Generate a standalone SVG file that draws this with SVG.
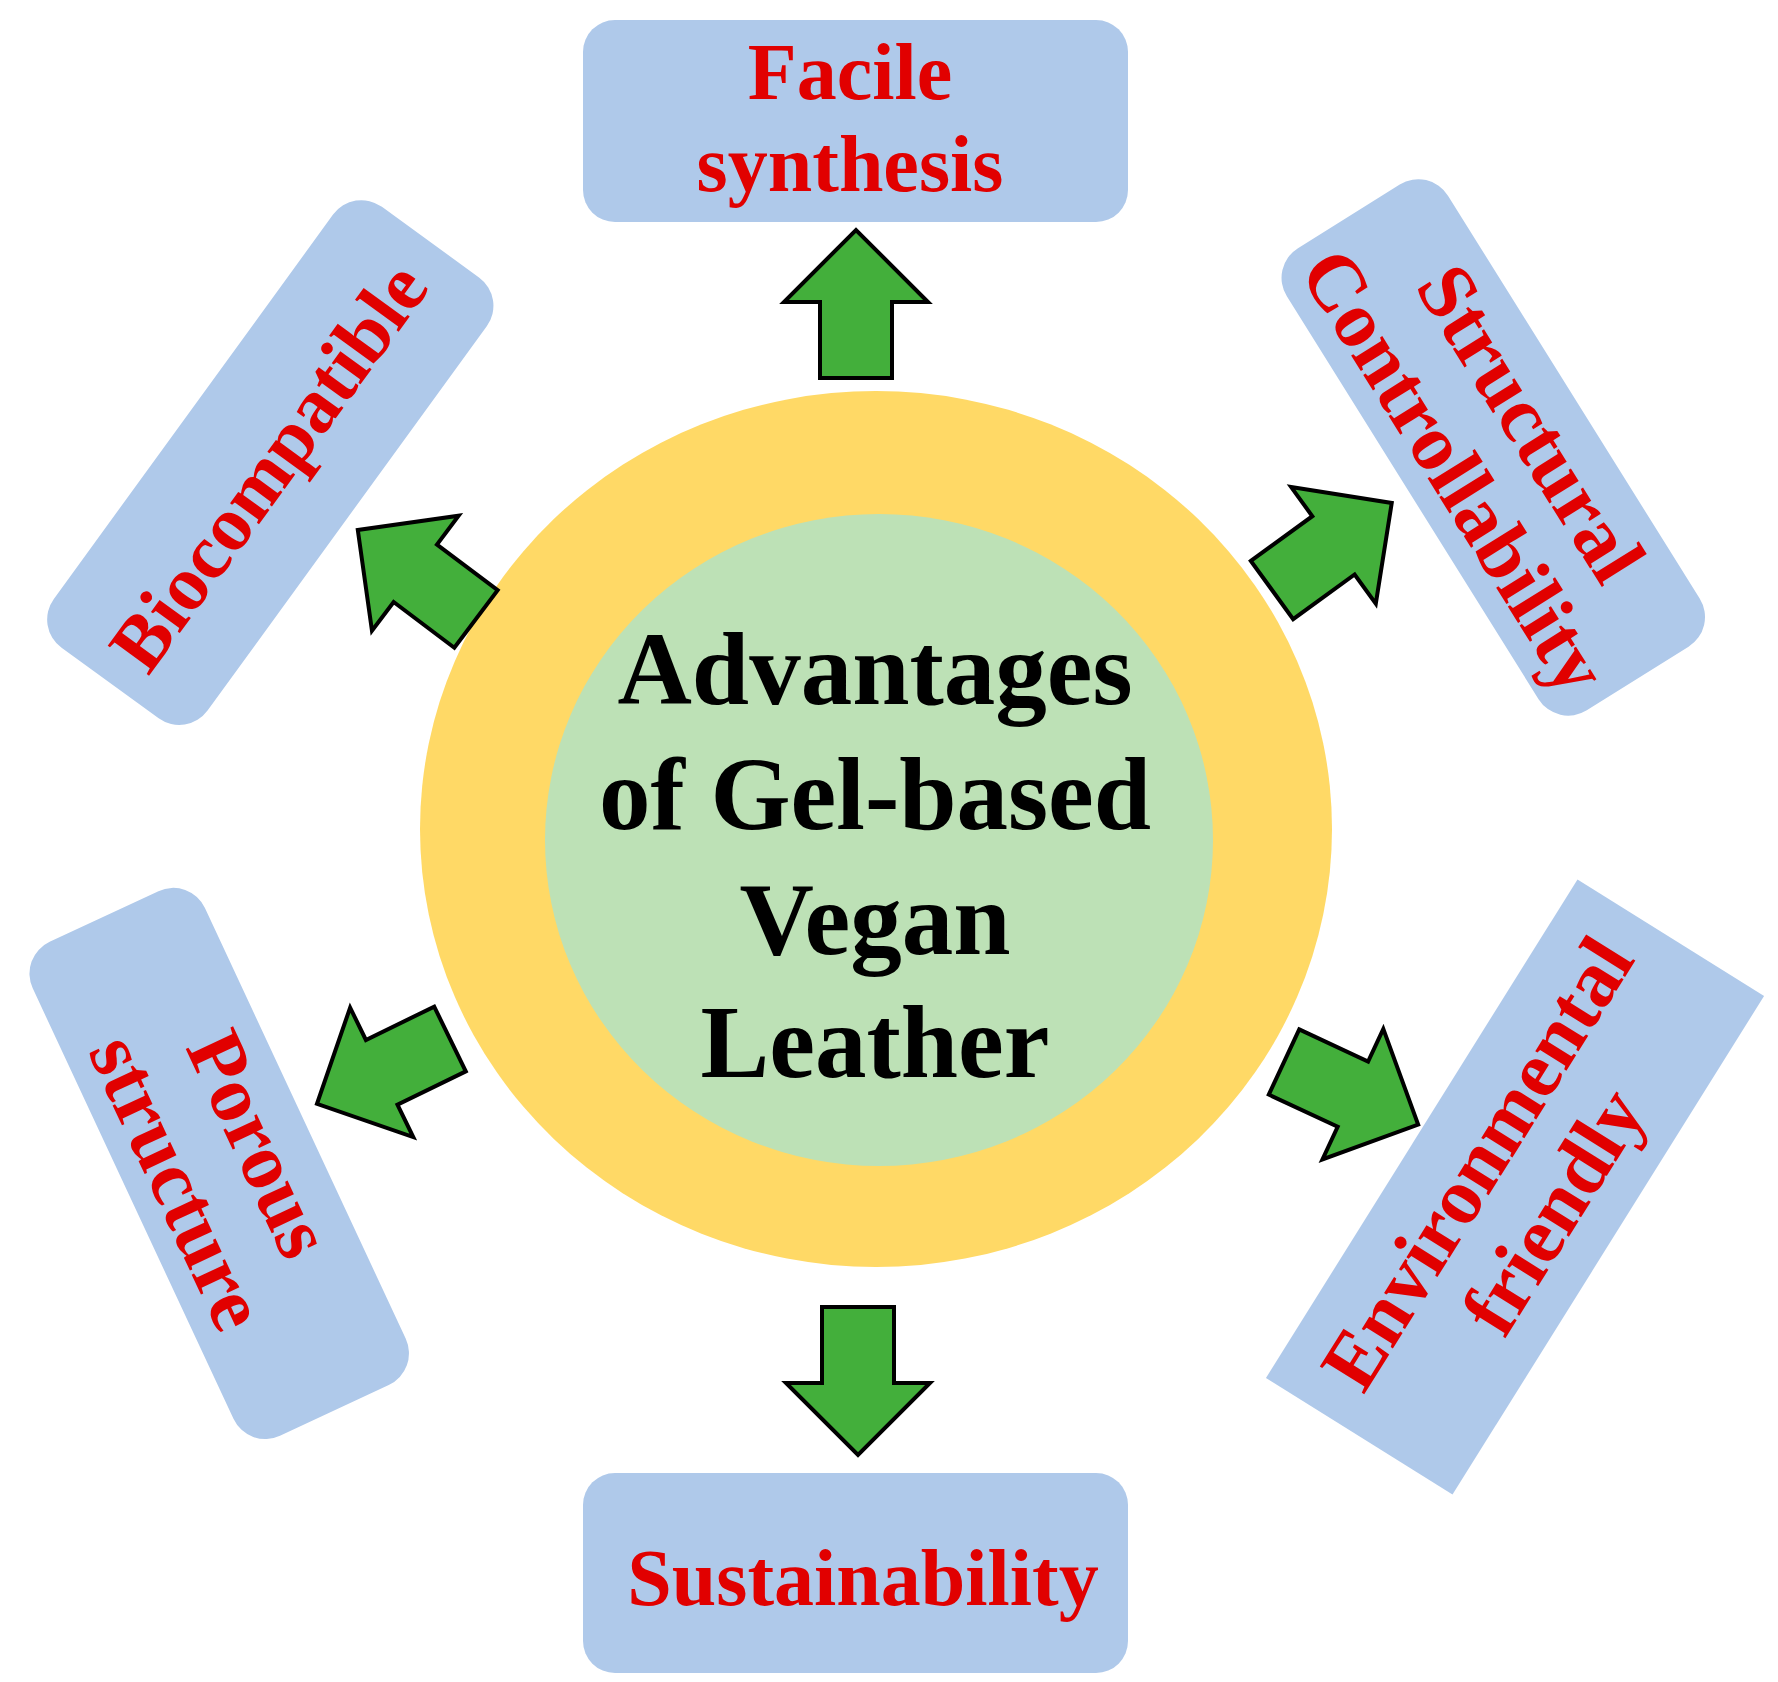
<svg xmlns="http://www.w3.org/2000/svg" width="1778" height="1682" viewBox="0 0 1778 1682">
  <style>
    .box { fill: #AFC9EA; }
    .lbl { font-family: "Liberation Serif", "Times New Roman", serif; font-weight: bold; font-size: 80px; fill: #E10000; text-anchor: middle; }
    .ctr { font-family: "Liberation Serif", "Times New Roman", serif; font-weight: bold; font-size: 103px; fill: #000000; text-anchor: middle; }
    .arrow { fill: #43AF3B; stroke: #000000; stroke-width: 4; stroke-linejoin: miter; }
  </style>
  <defs>
    <polygon id="arr" class="arrow" points="-36,0 -36,-76 -72,-76 0,-148 72,-76 36,-76 36,0"/>
  </defs>
  <rect width="1778" height="1682" fill="#FFFFFF"/>

  <g id="center">
    <ellipse cx="876" cy="829" rx="456" ry="438" fill="#FFD966"/>
    <ellipse cx="879" cy="840" rx="334" ry="326" fill="#BDE1B6"/>
    <text class="ctr" x="875" y="704">Advantages</text>
    <text class="ctr" x="875" y="829">of Gel-based</text>
    <text class="ctr" x="875" y="954">Vegan</text>
    <text class="ctr" x="875" y="1077">Leather</text>
  </g>

  <g id="facile">
    <rect class="box" x="583" y="20" width="545" height="202" rx="32"/>
    <text class="lbl" x="850" y="99">Facile</text>
    <text class="lbl" x="850" y="191">synthesis</text>
  </g>

  <g id="sustainability">
    <rect class="box" x="583" y="1473" width="545" height="200" rx="32"/>
    <text class="lbl" x="863" y="1605">Sustainability</text>
  </g>

  <g id="biocompatible" transform="translate(270,463) rotate(-54)">
    <rect class="box" x="-272" y="-95" width="545" height="190" rx="35"/>
    <text class="lbl" x="-4" y="27" style="font-size:78px">Biocompatible</text>
  </g>

  <g id="structural" transform="translate(1493,447) rotate(58)">
    <rect class="box" x="-272" y="-95" width="545" height="190" rx="35"/>
    <text class="lbl" x="0" y="-18">Structural</text>
    <text class="lbl" x="0" y="72">Controllability</text>
  </g>

  <g id="porous" transform="translate(219,1163) rotate(65)">
    <rect class="box" x="-272" y="-95" width="545" height="190" rx="35"/>
    <text class="lbl" x="0" y="-18">Porous</text>
    <text class="lbl" x="0" y="72">structure</text>
  </g>

  <g id="environmental" transform="translate(1515,1187) rotate(-58)">
    <rect class="box" x="-294" y="-110" width="588" height="220"/>
    <text class="lbl" x="0" y="-18">Environmental</text>
    <text class="lbl" x="0" y="72">friendly</text>
  </g>

  <g id="connectors">
    <use href="#arr" transform="translate(856,378)"/>
    <use href="#arr" transform="translate(858,1307) rotate(180)"/>
    <use href="#arr" transform="translate(476,619) rotate(-53)"/>
    <use href="#arr" transform="translate(1272,590) rotate(54)"/>
    <use href="#arr" transform="translate(450,1039) rotate(-116)"/>
    <use href="#arr" transform="translate(1284,1062) rotate(115)"/>
  </g>
</svg>
